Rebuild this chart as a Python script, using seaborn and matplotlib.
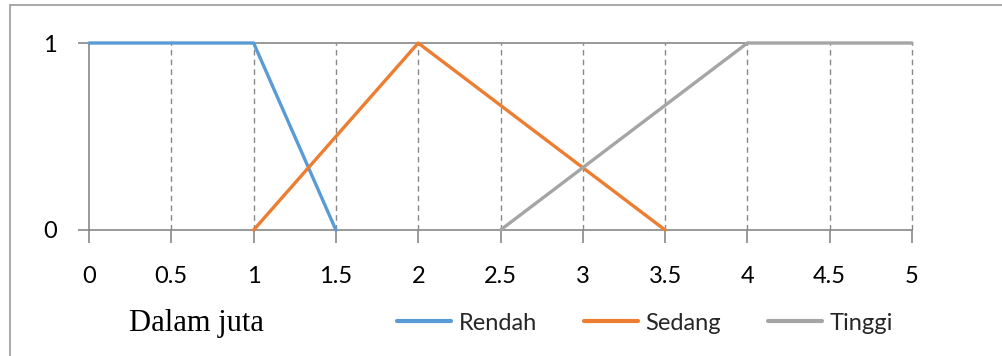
import matplotlib
matplotlib.use("Agg")
import matplotlib.pyplot as plt
import seaborn as sns
import pandas as pd
from matplotlib.patches import Rectangle
from matplotlib.lines import Line2D

# Membership functions (x in millions)
rendah_x = [0, 1, 1.5]
rendah_y = [1, 1, 0]
sedang_x = [1, 2, 3.5]
sedang_y = [0, 1, 0]
tinggi_x = [2.5, 4, 5]
tinggi_y = [0, 1, 1]

series_names = ["Rendah", "Sedang", "Tinggi"]
series_colors = ["#5B9BD5", "#ED7D31", "#A5A5A5"]
x_ticks = [0, 0.5, 1, 1.5, 2, 2.5, 3, 3.5, 4, 4.5, 5]
x_tick_labels = ["0", "0.5", "1", "1.5", "2", "2.5", "3", "3.5", "4", "4.5", "5"]
y_ticks = [0, 1]
axis_title = "Dalam juta"

df = pd.concat([
    pd.DataFrame({"x": rendah_x, "y": rendah_y, "kategori": "Rendah"}),
    pd.DataFrame({"x": sedang_x, "y": sedang_y, "kategori": "Sedang"}),
    pd.DataFrame({"x": tinggi_x, "y": tinggi_y, "kategori": "Tinggi"}),
], ignore_index=True)

sns.set_theme(style="white")
plt.rcParams["font.family"] = ["Lato", "DejaVu Sans"]

W, H = 1002, 356
fig = plt.figure(figsize=(W / 100, H / 100), dpi=100)
fig.patch.set_facecolor("white")

# outer chart frame
fig.patches.append(Rectangle((9.5 / W, -0.1), 1.2, (H - 5) / H + 0.1,
                             transform=fig.transFigure, fill=False,
                             edgecolor="#9a9a9a", linewidth=1.2, zorder=0))

ax = fig.add_axes([89 / W, 126 / H, (912 - 89) / W, (230 - 43) / H])
grid_color = "#888888"

# dashed vertical gridlines
for xv in x_ticks[1:]:
    ax.axvline(xv, color=grid_color, linestyle=(0, (4, 3)), linewidth=1.0,
               zorder=1, clip_on=False)
ax.axhline(1, color=grid_color, linewidth=1.2, zorder=1, clip_on=False)

sns.lineplot(data=df, x="x", y="y", hue="kategori", hue_order=series_names,
             palette=series_colors, linewidth=2.4, ax=ax, legend=False,
             estimator=None, sort=False, zorder=3)
for ln in ax.get_lines():
    ln.set_clip_on(False)

ax.set_xlim(0, 5)
ax.set_ylim(0, 1)
ax.set_xticks(x_ticks)
ax.set_xticklabels(x_tick_labels)
ax.set_yticks(y_ticks)
ax.set_xlabel("")
ax.set_ylabel("")

for side in ["top", "right"]:
    ax.spines[side].set_visible(False)
for side in ["left", "bottom"]:
    ax.spines[side].set_color(grid_color)
    ax.spines[side].set_linewidth(1.2)
ax.spines["left"].set_zorder(2)
ax.spines["bottom"].set_zorder(2)

ax.tick_params(axis="x", direction="out", length=9, width=1.2, color=grid_color,
               pad=17, labelsize=17, labelcolor="black", bottom=True)
ax.tick_params(axis="y", direction="out", length=8, width=1.2, color=grid_color,
               pad=15, labelsize=17, labelcolor="black", left=True)
ax.set_facecolor("white")

# axis title in serif
fig.text(196 / W, 1 - 323 / H, axis_title, fontsize=22, family="Liberation Serif",
         ha="center", va="center", color="black")

handles = [Line2D([0], [0], color=c, linewidth=3) for c in series_colors]
fig.legend(handles, series_names, loc="center", bbox_to_anchor=(645 / W, 1 - 323 / H),
           ncol=3, frameon=False, fontsize=17, handlelength=2.3, handletextpad=0.3,
           columnspacing=2.0)

fig.savefig("out.png", dpi=100, facecolor="white")
